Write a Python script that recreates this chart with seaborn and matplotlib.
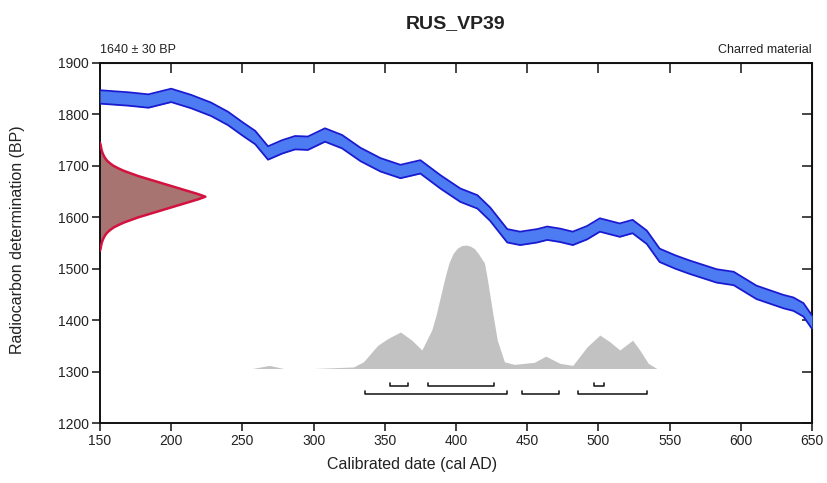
import numpy as np
import pandas as pd
import matplotlib
matplotlib.use("Agg")
import matplotlib.pyplot as plt
import seaborn as sns

# -----------------------------
# Data
# -----------------------------
# calibration curve (centre line, cal AD -> BP)
curve_x = [150, 170, 184, 200, 214, 228, 240, 250, 259, 268, 278, 287, 296, 308,
           320, 333, 347, 361, 375, 389, 403, 415, 424, 436, 445, 457, 464, 473,
           482, 492, 501, 515, 524, 534, 543, 554, 564, 583, 595, 611, 630, 637,
           644, 650]
curve_y = [1834, 1830, 1826, 1837, 1825, 1810, 1792, 1772, 1755, 1725, 1737, 1745,
           1744, 1760, 1747, 1722, 1702, 1689, 1698, 1669, 1643, 1630, 1606, 1564,
           1559, 1564, 1569, 1565, 1559, 1570, 1585, 1575, 1582, 1561, 1526, 1513,
           1503, 1486, 1481, 1454, 1436, 1431, 1420, 1396]
curve_err = 13

# radiocarbon determination 1640 +/- 30 BP (width in cal years from the axis)
c14_bp = [1535, 1540, 1545, 1550, 1555, 1560, 1565, 1570, 1575, 1580, 1585, 1590,
          1595, 1600, 1605, 1610, 1615, 1620, 1625, 1630, 1635, 1640, 1645, 1650,
          1655, 1660, 1665, 1670, 1675, 1680, 1685, 1690, 1695, 1700, 1705, 1710,
          1715, 1720, 1725, 1730, 1735, 1740, 1745]
c14_w = [0, 0.5, 0.8, 1.2, 1.8, 2.6, 3.6, 5, 7, 9.5, 13, 17,
         22, 27, 33, 39, 45, 51, 57, 63, 69, 74, 69, 63,
         57, 51, 45, 39, 33, 27, 22, 17, 13, 9.5, 7, 5,
         3.6, 2.6, 1.8, 1.2, 0.8, 0.5, 0]

# calibrated distribution (cal AD -> BP height)
cal_x = [257, 263, 269, 274, 279, 300, 328, 335, 345, 352, 361, 369, 376, 383,
         386, 389, 392, 395, 398, 401, 404, 407, 410, 413, 416, 420, 422, 424,
         426, 429, 434, 441, 455, 463, 473, 482, 492, 501, 508, 515, 524, 529,
         535, 541]
cal_y = [1306, 1309, 1312, 1309, 1306, 1306, 1309, 1319, 1351, 1364, 1377, 1361,
         1342, 1381, 1410, 1445, 1480, 1511, 1530, 1540, 1545, 1546, 1544, 1539,
         1528, 1511, 1480, 1445, 1410, 1361, 1319, 1314, 1318, 1330, 1316, 1312,
         1348, 1371, 1358, 1342, 1361, 1342, 1316, 1306]
cal_base = 1306

# probability ranges
range68 = [(354, 366), (380, 427), (497, 504)]
range95 = [(336, 436), (446, 472), (486, 534)]

title = "RUS_VP39"
date_txt = "1640 ± 30 BP"
material = "Charred material"

# -----------------------------
# Style
# -----------------------------
sns.set_style("ticks")
plt.rcParams["font.family"] = ["Liberation Sans", "DejaVu Sans"]

fig = plt.figure(figsize=(8.27, 4.83), dpi=100)
ax = fig.add_axes([0.1209, 0.1242, 0.861, 0.7454])

# calibration curve band
curve = pd.DataFrame({"x": curve_x, "y": curve_y})
curve["lo"] = curve["y"] - curve_err
curve["hi"] = curve["y"] + curve_err
ax.fill_between(curve["x"], curve["lo"], curve["hi"], color="#4d7cf2", lw=0, zorder=3)
sns.lineplot(data=curve, x="x", y="hi", ax=ax, color="#1a1ad0", lw=1.3, zorder=4,
             solid_joinstyle="round")
sns.lineplot(data=curve, x="x", y="lo", ax=ax, color="#1a1ad0", lw=1.3, zorder=4,
             solid_joinstyle="round")

# radiocarbon determination
c14 = pd.DataFrame({"bp": c14_bp, "w": c14_w})
c14["x"] = 150 + c14["w"]
ax.fill_betweenx(c14["bp"], 150, c14["x"], color="#a87472", lw=0, zorder=2)
ax.plot(c14["x"], c14["bp"], color="#d3123f", lw=1.8, zorder=3,
        solid_joinstyle="round")

# calibrated distribution
ax.fill_between(cal_x, cal_base, cal_y, color="#c2c2c2", lw=0, zorder=1)

# ranges
for rows, yb in [(range68, 1271), (range95, 1257)]:
    for a, b in rows:
        ax.plot([a, a, b, b], [yb + 6, yb, yb, yb + 6], color="#222222", lw=1.2,
                zorder=3)

ax.set_xlim(150, 650)
ax.set_ylim(1200, 1900)
ax.set_xticks(range(150, 651, 50))
ax.set_yticks(range(1200, 1901, 100))
ax.tick_params(direction="out", length=6, width=1.2, labelsize=10,
               colors="#222222", pad=2)
for s in ax.spines.values():
    s.set_visible(True)
    s.set_linewidth(1.4)
    s.set_color("#111111")

top = ax.secondary_xaxis("top")
top.set_xticks(range(150, 651, 50))
top.tick_params(direction="in", length=7, width=1.2, labeltop=False)
right = ax.secondary_yaxis("right")
right.set_yticks(range(1200, 1901, 100))
right.tick_params(direction="in", length=7, width=1.2, labelright=False)

ax.set_xlabel("Calibrated date (cal AD)", fontsize=11.5, color="#222222")
ax.xaxis.set_label_coords(0.438, -0.095)
ax.set_ylabel("Radiocarbon determination (BP)", fontsize=11.5, color="#222222")
ax.yaxis.set_label_coords(-0.105, 0.508)

ax.text(0, 1.02, date_txt, transform=ax.transAxes, ha="left", va="bottom",
        fontsize=9, color="#222222")
ax.text(1, 1.02, material, transform=ax.transAxes, ha="right", va="bottom",
        fontsize=9, color="#222222")
fig.text(0.5514, 0.952, title, ha="center", va="center", fontsize=14,
         fontweight="bold", color="#222222")

fig.savefig("out.png", dpi=100)
